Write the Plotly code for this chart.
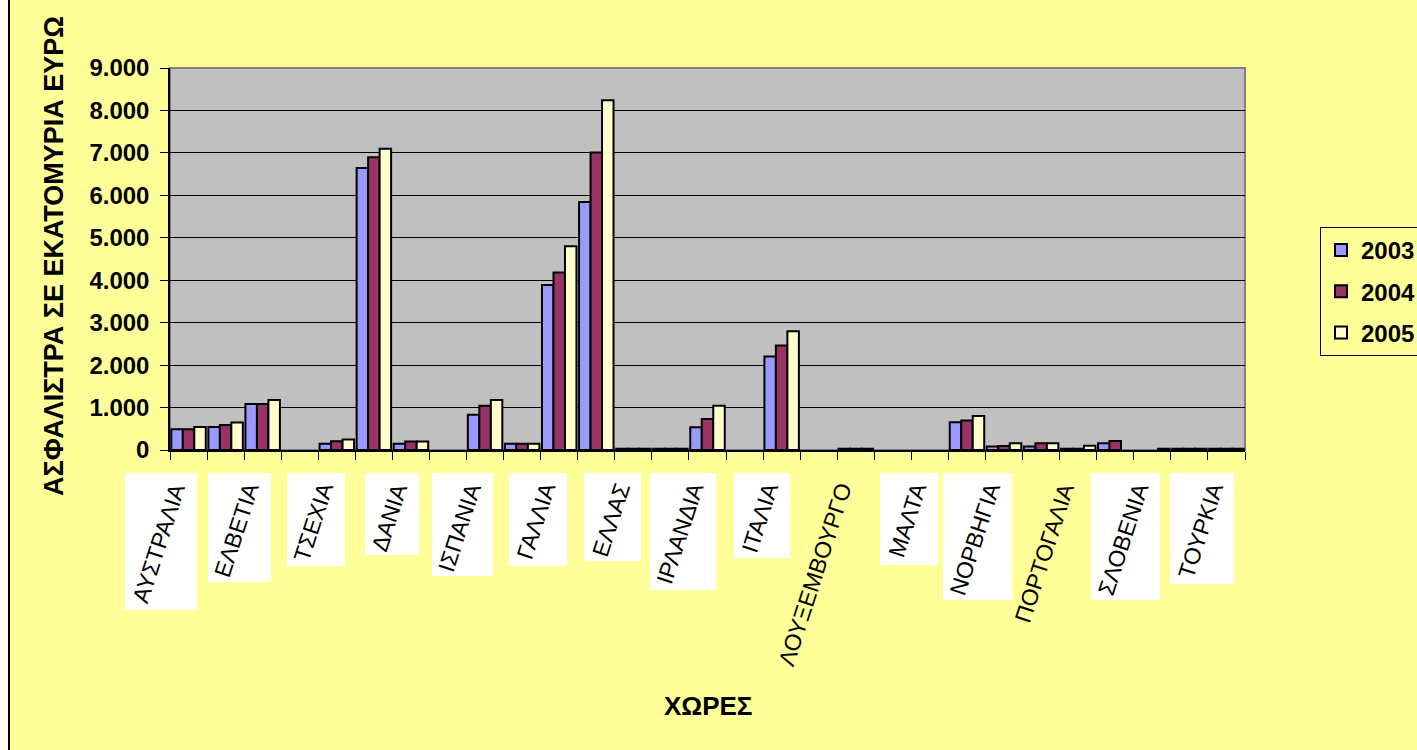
import math
import plotly.graph_objects as go

# ---- data -------------------------------------------------------------
countries = [
    "ΑΥΣΤΡΑΛΙΑ", "ΒΕΛΓΙΟ", "ΕΛΒΕΤΙΑ", "ΚΥΠΡΟΣ", "ΤΣΕΧΙΑ", "ΓΕΡΜΑΝΙΑ",
    "ΔΑΝΙΑ", "ΕΣΘΟΝΙΑ", "ΙΣΠΑΝΙΑ", "ΦΙΝΛΑΝΔΙΑ", "ΓΑΛΛΙΑ",
    "ΗΝΩΜΕΝΟ ΒΑΣΙΛΕΙΟ", "ΕΛΛΑΣ", "ΟΥΓΓΑΡΙΑ", "ΙΡΛΑΝΔΙΑ", "ΙΣΛΑΝΔΙΑ",
    "ΙΤΑΛΙΑ", "ΛΙΧΤΕΝΣΤΑΪΝ", "ΛΟΥΞΕΜΒΟΥΡΓΟ", "ΛΕΤΟΝΙΑ", "ΜΑΛΤΑ",
    "ΟΛΛΑΝΔΙΑ", "ΝΟΡΒΗΓΙΑ", "ΠΟΛΩΝΙΑ", "ΠΟΡΤΟΓΑΛΙΑ", "ΣΟΥΗΔΙΑ",
    "ΣΛΟΒΕΝΙΑ", "ΣΛΟΒΑΚΙΑ", "ΤΟΥΡΚΙΑ",
]

# premiums in million euro
premiums_2003 = [490, 540, 1085, None, 150, 6645, 150, None, 833, 150, 3890,
                 5840, 30, 30, 535, None, 2205, None, 30, None, None,
                 655, 80, 80, 30, 160, None, 30, 30]
premiums_2004 = [490, 590, 1085, None, 205, 6895, 200, None, 1040, 150, 4180,
                 7010, 30, 30, 730, None, 2460, None, 30, None, None,
                 695, 95, 160, 30, 210, None, 30, 30]
premiums_2005 = [540, 645, 1180, None, 250, 7095, 200, None, 1180, 150, 4800,
                 8240, 30, 30, 1040, None, 2800, None, 30, None, None,
                 800, 160, 160, 100, None, 30, 30, 30]

series_names = ["2003", "2004", "2005"]

# every second country gets a visible label
labelled = countries[0::2]
unboxed_labels = {"ΛΟΥΞΕΜΒΟΥΡΓΟ", "ΠΟΡΤΟΓΑΛΙΑ"}

y_ticks = list(range(0, 9001, 1000))

# ---- style ------------------------------------------------------------
FONT = "Liberation Sans, Arial, sans-serif"
PAPER = "#FFFF99"
PLOT_BG = "#C0C0C0"
colors = ["#9999FF", "#993366", "#FFFFCC"]

W, H = 1417, 750
ML, MR, MT, MB = 170, 172, 68, 300
plot_h = H - MT - MB

fig = go.Figure()
for name, vals, col in zip(series_names,
                           [premiums_2003, premiums_2004, premiums_2005],
                           colors):
    fig.add_trace(go.Bar(
        x=countries, y=vals, name=name, legendgroup=name,
        marker=dict(color=col, line=dict(color="#000000", width=2)),
    ))

# ---- rotated category labels with white boxes --------------------------
char_w = {"Α": .667, "Β": .667, "Γ": .551, "Δ": .668, "Ε": .667, "Ζ": .611,
          "Η": .722, "Θ": .778, "Ι": .278, "Κ": .667, "Λ": .668, "Μ": .833,
          "Ν": .722, "Ξ": .650, "Ο": .778, "Π": .722, "Ρ": .667, "Σ": .618,
          "Τ": .611, "Υ": .667, "Φ": .797, "Χ": .667, "Ψ": .835, "Ω": .748}
LABEL_FS = 23
ANGLE = 72
ca, sa = math.cos(math.radians(ANGLE)), math.sin(math.radians(ANGLE))

annotations = []
for lab in labelled:
    text_len = sum(char_w.get(c, .6) for c in lab) * LABEL_FS
    thick = LABEL_FS * 1.15
    bw = text_len * ca + thick * sa + 8
    bh = text_len * sa + thick * ca + 8
    if lab not in unboxed_labels:
        annotations.append(dict(
            x=lab, xref="x", xanchor="right", xshift=8,
            y=0, yref="paper", yanchor="top", yshift=-23,
            text=" ", showarrow=False, width=bw, height=bh,
            bgcolor="#FFFFFF", borderpad=0, borderwidth=0,
        ))
    annotations.append(dict(
        x=lab, xref="x", xanchor="right", xshift=4,
        y=0, yref="paper", yanchor="top", yshift=-27,
        text=lab, textangle=-ANGLE, showarrow=False,
        font=dict(family=FONT, size=LABEL_FS, color="#000000"),
    ))

# axis titles
annotations.append(dict(
    text="ΑΣΦΑΛΙΣΤΡΑ ΣΕ ΕΚΑΤΟΜΥΡΙΑ ΕΥΡΩ", textangle=-90, showarrow=False,
    xref="paper", x=(54 - ML) / (W - ML - MR), xanchor="center",
    yref="paper", y=(H - MB - 256) / plot_h, yanchor="middle",
    font=dict(family=FONT, size=27, color="#000000", weight="bold"),
))
annotations.append(dict(
    text="ΧΩΡΕΣ", showarrow=False,
    xref="paper", x=0.5, xanchor="center",
    yref="paper", y=(H - MB - 706) / plot_h, yanchor="middle",
    font=dict(family=FONT, size=26, color="#000000", weight="bold"),
))

shapes = [
    # plot-area frame
    dict(type="rect", xref="paper", yref="paper", x0=0, x1=1, y0=0, y1=1,
         line=dict(color="#808080", width=2), layer="below"),
    # white strip and border line at the left edge of the chart
    dict(type="rect", xref="paper", yref="paper",
         xsizemode="pixel", xanchor=0, x0=-ML - 2, x1=-ML + 8,
         ysizemode="pixel", yanchor=0, y0=-MB - 20, y1=plot_h + MT + 20,
         fillcolor="#FFFFFF", line=dict(width=0), layer="above"),
    dict(type="line", xref="paper", yref="paper",
         xsizemode="pixel", xanchor=0, x0=-ML + 9, x1=-ML + 9,
         ysizemode="pixel", yanchor=0, y0=-MB - 20, y1=plot_h + MT + 20,
         line=dict(color="#000000", width=2), layer="above"),
]

fig.update_layout(
    width=W, height=H,
    margin=dict(l=ML, r=MR, t=MT, b=MB, pad=0),
    paper_bgcolor=PAPER, plot_bgcolor=PLOT_BG,
    separators=",.",
    barmode="group", bargap=0.07, bargroupgap=0,
    font=dict(family=FONT, color="#000000"),
    xaxis=dict(
        type="category", categoryorder="array", categoryarray=countries,
        range=[-0.5, len(countries) - 0.5], autorange=False,
        tickson="boundaries", ticks="outside", ticklen=8, tickwidth=1,
        tickcolor="#000000", showticklabels=False, showgrid=False,
        showline=True, linecolor="#000000", linewidth=2,
    ),
    yaxis=dict(
        range=[0, 9000], autorange=False, tickvals=y_ticks, tickformat=",d",
        ticks="outside", ticklen=8, tickwidth=1, tickcolor="#000000",
        ticklabelstandoff=6,
        tickfont=dict(family=FONT, size=24, color="#000000", weight="bold"),
        showgrid=True, gridcolor="#000000", gridwidth=1,
        showline=True, linecolor="#000000", linewidth=1.5,
        zeroline=False,
    ),
    legend=dict(
        xref="container", x=1320 / W, xanchor="left",
        yref="container", y=1 - 227 / H, yanchor="top",
        bgcolor=PAPER, bordercolor="#000000", borderwidth=1,
        font=dict(family=FONT, size=24, color="#000000", weight="bold"),
        tracegroupgap=7,
    ),
    annotations=annotations,
    shapes=shapes,
)

fig.write_html("out.html")
